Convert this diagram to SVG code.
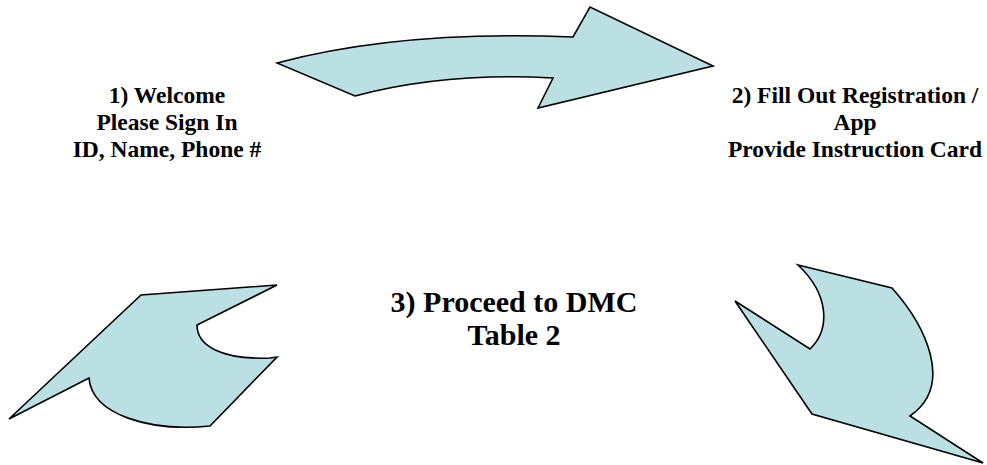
<svg xmlns="http://www.w3.org/2000/svg" width="987" height="465" viewBox="0 0 987 465">
<style>
.arrow{fill:#BBE0E3;stroke:#000;stroke-width:1.6;stroke-linejoin:miter}
text{font-family:'Liberation Serif','Times New Roman',Times,serif;font-weight:700;fill:#000;text-anchor:middle}
.s{font-size:23.5px}
.l{font-size:30px}
</style>
<rect width="987" height="465" fill="#fff"/>
<g id="connectors">
<path id="arrow-top" class="arrow" d="M277,63 Q400,30 573,37 L590,7 L713,66 L538,108 L553,78 Q445,72 355,96 Z"/>
<path id="arrow-right" class="arrow" d="M798,265 L892,288 C925,325 955,385 910,416 L983,463 L812,414 L735,301 L810,349 C830,330 830,295 798,265 Z"/>
<path id="arrow-left" class="arrow" d="M9,419 L141,295 L277,285 L197,325 C197,345 220,360 270,358 L277,357 L210,426 C150,432 92,415 89,378 Z"/>
</g>
<g id="node1" font-family="Liberation Serif, serif" font-weight="bold">
<text class="s" x="167" y="103">1) Welcome</text>
<text class="s" x="167" y="130">Please Sign In</text>
<text class="s" x="167" y="157">ID, Name, Phone #</text>
</g>
<g id="node2" font-family="Liberation Serif, serif" font-weight="bold">
<text class="s" x="855" y="103">2) Fill Out Registration /</text>
<text class="s" x="855" y="130">App</text>
<text class="s" x="855" y="157">Provide Instruction Card</text>
</g>
<g id="node3" font-family="Liberation Serif, serif" font-weight="bold">
<text class="l" x="514" y="312">3) Proceed to DMC</text>
<text class="l" x="514" y="345">Table 2</text>
</g>
</svg>
